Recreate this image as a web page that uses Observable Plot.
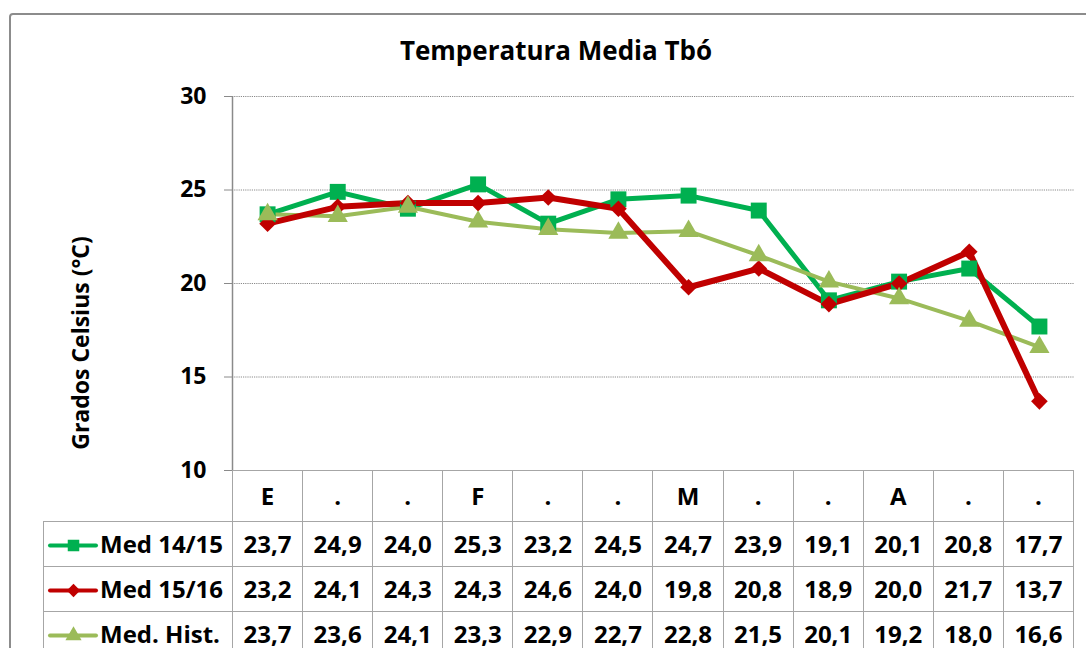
<!DOCTYPE html>
<html>
<head>
<meta charset="utf-8">
<script src="https://cdn.jsdelivr.net/npm/d3@7"></script>
<script src="https://cdn.jsdelivr.net/npm/@observablehq/plot@0.6"></script>
<style>
  html, body { margin: 0; padding: 0; background: #fff; overflow: hidden; }
  #wrap { position: relative; width: 1086px; height: 648px; overflow: hidden; font-family: "Open Sans", Lato, sans-serif; font-weight: bold; color: #000; }
  #frame { position: absolute; left: 9px; top: 13px; width: 1200px; height: 800px; border: 2px solid #8c8c8c; border-radius: 4px; box-sizing: border-box; }
  #title { position: absolute; left: 0; width: 1112px; top: 33px; text-align: center; font-size: 26px; line-height: 34px; }
  #ylabel { position: absolute; left: 80px; top: 343px; transform: translate(-50%, -50%) rotate(-90deg); white-space: nowrap; font-size: 23px; }
  #chart { position: absolute; left: 0; top: 0; }
  table { position: absolute; left: 43px; top: 470px; border-collapse: collapse; table-layout: fixed; font-size: 24px; }
  td { border: 1.5px solid #a6a6a6; padding: 0; text-align: center; white-space: nowrap; overflow: hidden; line-height: 28px; }
  td.blank { border: none; border-right: 1.5px solid #a6a6a6; }
  td.lab { text-align: left; }
  .sw { display: inline-block; vertical-align: middle; margin-left: 4px; margin-right: 2px; position: relative; top: -2px; }
</style>
</head>
<body>
<div id="wrap">
  <div id="frame"></div>
  <div id="title">Temperatura Media Tbó</div>
  <div id="ylabel">Grados Celsius (°C)</div>
  <div id="chart"></div>
</div>
<script>
const categories = ["E", ".", ".", "F", ".", ".", "M", ".", ".", "A", ".", "."];
const med1415 = [23.7, 24.9, 24.0, 25.3, 23.2, 24.5, 24.7, 23.9, 19.1, 20.1, 20.8, 17.7];
const med1516 = [23.2, 24.1, 24.3, 24.3, 24.6, 24.0, 19.8, 20.8, 18.9, 20.0, 21.7, 13.7];
const medHist = [23.7, 23.6, 24.1, 23.3, 22.9, 22.7, 22.8, 21.5, 20.1, 19.2, 18.0, 16.6];
const seriesNames = ["Med 14/15", "Med 15/16", "Med. Hist."];
const yTicks = [10, 15, 20, 25, 30];
const gridTicks = [15, 20, 25, 30];

const colors = ["#00b050", "#c00000", "#9bbb59"];
const symbols = ["square", "diamond2", "triangle"];
const widths = [5, 6, 4];
const radii = [9, 7.5, 7.5];
const seriesValues = [med1415, med1516, medHist];

const rows = seriesValues.map((vals) => vals.map((v, i) => ({i, v})));

const chart = Plot.plot({
  width: 1086,
  height: 471,
  marginLeft: 232,
  marginRight: 12,
  marginTop: 96,
  marginBottom: 1,
  x: {domain: [-0.5, categories.length - 0.5], axis: null},
  y: {domain: [10, 30], axis: null},
  style: {fontFamily: "'Open Sans', Lato, sans-serif", background: "transparent", overflow: "visible"},
  marks: [
    Plot.gridY(gridTicks, {stroke: "#8a8a8a", strokeOpacity: 1, strokeDasharray: "1.2,1"}),
    Plot.ruleX([-0.5], {y1: 10, y2: 30, stroke: "#8a8a8a", strokeWidth: 1.5}),
    Plot.axisY(yTicks, {tickSize: 8, tickPadding: 18, stroke: "#8a8a8a", fill: "#000", fontSize: 23, fontWeight: "bold", label: null}),
    Plot.line(rows[0], {x: "i", y: "v", stroke: colors[0], strokeWidth: widths[0]}),
    Plot.line(rows[2], {x: "i", y: "v", stroke: colors[2], strokeWidth: widths[2]}),
    Plot.line(rows[1], {x: "i", y: "v", stroke: colors[1], strokeWidth: widths[1]}),
    Plot.dot(rows[0], {x: "i", y: "v", symbol: symbols[0], fill: colors[0], r: radii[0]}),
    Plot.dot(rows[1], {x: "i", y: "v", symbol: symbols[1], fill: colors[1], r: radii[1]}),
    Plot.dot(rows[2], {x: "i", y: "v", symbol: symbols[2], fill: colors[2], r: radii[2]})
  ]
});
document.getElementById("chart").appendChild(chart);

// legend swatches via Plot
function swatch(k) {
  return Plot.plot({
    width: 50, height: 20, margin: 0,
    x: {domain: [0, 1], axis: null},
    y: {domain: [0, 1], axis: null},
    style: {background: "transparent", overflow: "visible", display: "inline-block"},
    marks: [
      Plot.ruleY([0.5], {x1: 0.04, x2: 0.96, stroke: colors[k], strokeWidth: 4, strokeLinecap: "round"}),
      Plot.dot([0.5], {x: 0.5, y: 0.5, symbol: symbols[k], fill: colors[k], r: k === 0 ? 6.5 : 6})
    ]
  });
}

const fmt = (v) => v.toFixed(1).replace(".", ",");
const table = document.createElement("table");
const colW = (1073 - 232) / categories.length;
const cg = document.createElement("colgroup");
const c0 = document.createElement("col"); c0.style.width = (232 - 43) + "px"; cg.appendChild(c0);
categories.forEach(() => { const c = document.createElement("col"); c.style.width = colW + "px"; cg.appendChild(c); });
table.appendChild(cg);
const hr = document.createElement("tr"); hr.style.height = "51px";
const b = document.createElement("td"); b.className = "blank"; hr.appendChild(b);
categories.forEach((c) => { const td = document.createElement("td"); td.textContent = c; hr.appendChild(td); });
table.appendChild(hr);
seriesValues.forEach((vals, k) => {
  const tr = document.createElement("tr"); tr.style.height = "45px";
  const lab = document.createElement("td"); lab.className = "lab";
  const sw = swatch(k); sw.classList.add("sw");
  lab.appendChild(sw);
  lab.appendChild(document.createTextNode(seriesNames[k]));
  tr.appendChild(lab);
  vals.forEach((v) => { const td = document.createElement("td"); td.textContent = fmt(v); tr.appendChild(td); });
  table.appendChild(tr);
});
document.getElementById("wrap").appendChild(table);
</script>
</body>
</html>
